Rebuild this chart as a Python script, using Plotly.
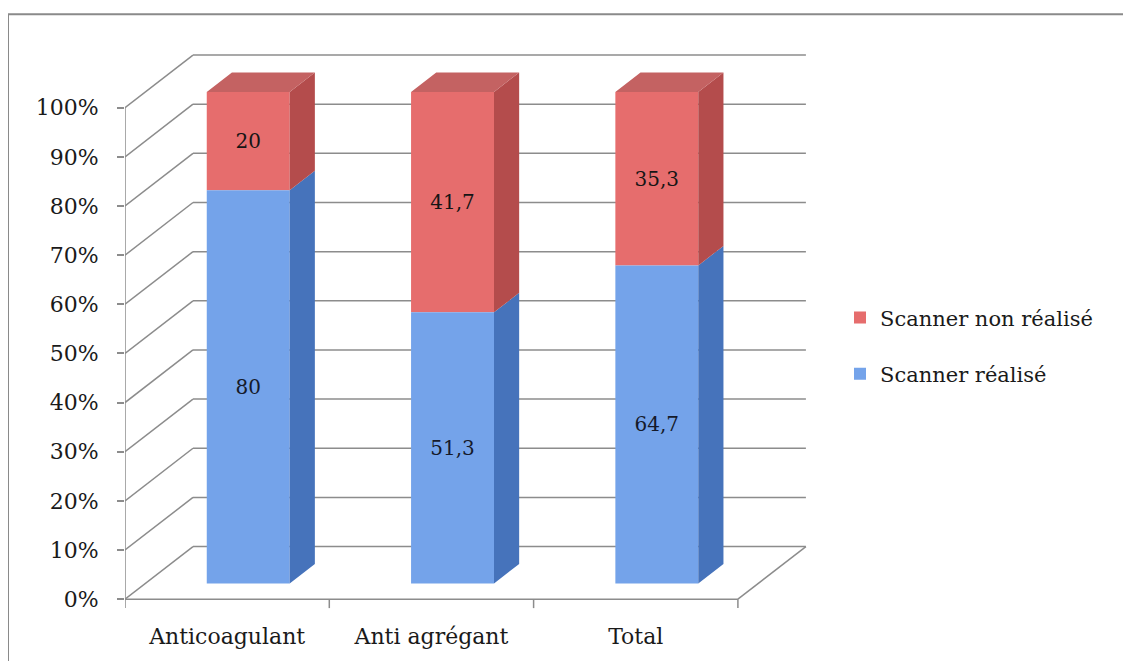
import plotly.graph_objects as go

# ---------------- data ----------------
categories = ["Anticoagulant", "Anti agrégant", "Total"]
scanner_realise = [80, 51.3, 64.7]
scanner_non_realise = [20, 41.7, 35.3]
series_names = ["Scanner réalisé", "Scanner non réalisé"]
y_tick_values = [0, 10, 20, 30, 40, 50, 60, 70, 80, 90, 100]
y_tick_labels = [f"{v}%" for v in y_tick_values]

# ---------------- geometry / style ----------------
OFF = 8                              # page body margin
W, H = 1131 - OFF, 669 - 2 * OFF
ML, MT = 125 - OFF, 49 - OFF
PW, PH = 685, 564                    # plot area size in px
MR = W - ML - PW
MB = H - MT - PH
PXU = 204.3          # pixels per category unit
PYU = 4.95           # pixels per percent
X0 = -0.5
X1 = X0 + PW / PXU
Y0 = -2.0
Y1 = Y0 + PH / PYU

DX, DY = 68 / PXU, 53 / PYU        # depth of the 3D box
BX, BASE = 0.31 * DX, 0.30 * DY    # bar front plane offset
BW = 0.406                         # bar width
DDX, DDY = 0.37 * DX, 0.37 * DY    # bar depth

FONT = "DejaVu Serif"
GRID = "#8c8c8c"
BLUE_FRONT, BLUE_SIDE = "#74a3ea", "#4673bb"
RED_FRONT, RED_SIDE, RED_TOP = "#e66d6d", "#b44c4c", "#c46262"


def fmt(v):
    return f"{v:g}".replace(".", ",")


def page_x(px):
    return (px - OFF - ML) / PW


def page_y(py):
    return (MT + PH - (py - OFF)) / PH


n = len(categories)
xs = list(range(n))
tot = [a + b for a, b in zip(scanner_realise, scanner_non_realise)]
pct_blue = [a / t * 100 for a, t in zip(scanner_realise, tot)]
pct_red = [b / t * 100 for b, t in zip(scanner_non_realise, tot)]

fig = go.Figure()

# front faces (bars) - red first so it is listed first in the legend
fig.add_trace(go.Bar(
    x=[i + BX for i in xs], y=pct_red, base=[BASE + p for p in pct_blue], width=BW,
    marker=dict(color=RED_FRONT, line=dict(width=0)),
    text=[fmt(v) for v in scanner_non_realise], textposition="inside",
    insidetextanchor="middle", textangle=0,
    textfont=dict(family=FONT, size=20, color="#151515"),
    name=series_names[1], legendgroup="red", hoverinfo="skip"))
fig.add_trace(go.Bar(
    x=[i + BX for i in xs], y=pct_blue, base=[BASE] * n, width=BW,
    marker=dict(color=BLUE_FRONT, line=dict(width=0)),
    text=[fmt(v) for v in scanner_realise], textposition="inside",
    insidetextanchor="middle", textangle=0,
    textfont=dict(family=FONT, size=20, color="#151a2a"),
    name=series_names[0], legendgroup="blue", hoverinfo="skip"))


def side_poly(segments):
    px, py = [], []
    for xr, b0, b1 in segments:
        px += [xr, xr + DDX, xr + DDX, xr, xr, None]
        py += [b0, b0 + DDY, b1 + DDY, b1, b0, None]
    return px, py


bx, by = side_poly([(i + BX + BW / 2, BASE, BASE + pct_blue[i]) for i in xs])
fig.add_trace(go.Scatter(x=bx, y=by, fill="toself", fillcolor=BLUE_SIDE, mode="lines",
                         line=dict(width=0, color=BLUE_SIDE), showlegend=False, hoverinfo="skip"))
rx, ry = side_poly([(i + BX + BW / 2, BASE + pct_blue[i], BASE + pct_blue[i] + pct_red[i]) for i in xs])
fig.add_trace(go.Scatter(x=rx, y=ry, fill="toself", fillcolor=RED_SIDE, mode="lines",
                         line=dict(width=0, color=RED_SIDE), showlegend=False, hoverinfo="skip"))
tx, ty = [], []
for i in xs:
    xl, xr = i + BX - BW / 2, i + BX + BW / 2
    t = BASE + pct_blue[i] + pct_red[i]
    tx += [xl, xl + DDX, xr + DDX, xr, xl, None]
    ty += [t, t + DDY, t + DDY, t, t, None]
fig.add_trace(go.Scatter(x=tx, y=ty, fill="toself", fillcolor=RED_TOP, mode="lines",
                         line=dict(width=0, color=RED_TOP), showlegend=False, hoverinfo="skip"))

# 3D walls / grid as shapes below traces
shapes = []
line = dict(color=GRID, width=1.5)
left, right = X0, X0 + n
for v in y_tick_values:
    shapes.append(dict(type="line", x0=left, y0=v, x1=left + DX, y1=v + DY, line=line, layer="below"))
    shapes.append(dict(type="line", x0=left + DX, y0=v + DY, x1=right + DX, y1=v + DY, line=line, layer="below"))
shapes.append(dict(type="line", x0=left, y0=0, x1=right, y1=0, line=line, layer="below"))
shapes.append(dict(type="line", x0=right, y0=0, x1=right + DX, y1=DY, line=line, layer="below"))
shapes.append(dict(type="line", x0=left, y0=0, x1=left, y1=100, line=line, layer="below"))
for k in range(n + 1):
    shapes.append(dict(type="line", x0=left + k, y0=0, x1=left + k, y1=-9 / PYU, line=line, layer="below"))

# outer frame (top and left edges visible)
frame = dict(color="#8a8a8a", width=2)
shapes.append(dict(type="line", xref="paper", yref="paper",
                   x0=page_x(8), x1=page_x(1131 + 20), y0=page_y(14), y1=page_y(14),
                   line=frame, layer="below"))
shapes.append(dict(type="line", xref="paper", yref="paper",
                   x0=page_x(8), x1=page_x(8), y0=page_y(14), y1=page_y(669 + 20),
                   line=frame, layer="below"))

fig.update_layout(
    width=W, height=H,
    margin=dict(l=ML, r=MR, t=MT, b=MB),
    paper_bgcolor="white", plot_bgcolor="white",
    barmode="overlay",
    shapes=shapes,
    font=dict(family=FONT, size=22, color="#1a1a1a"),
    xaxis=dict(range=[X0, X1], tickvals=xs, ticktext=categories, ticks="",
               showgrid=False, zeroline=False, showline=False,
               ticklabelstandoff=12, tickfont=dict(family=FONT, size=22, color="#1a1a1a")),
    yaxis=dict(range=[Y0, Y1], tickvals=y_tick_values, ticktext=y_tick_labels,
               ticks="outside", ticklen=7, tickcolor=GRID, tickwidth=1.5,
               showgrid=False, zeroline=False, showline=False,
               ticklabelstandoff=14, tickfont=dict(family=FONT, size=22, color="#1a1a1a")),
    legend=dict(x=page_x(840), y=page_y(348), xanchor="left", yanchor="middle",
                traceorder="grouped", tracegroupgap=26,
                font=dict(family=FONT, size=21, color="#1a1a1a"),
                bgcolor="rgba(0,0,0,0)", itemwidth=30),
    showlegend=True,
)

fig.write_html("out.html")
